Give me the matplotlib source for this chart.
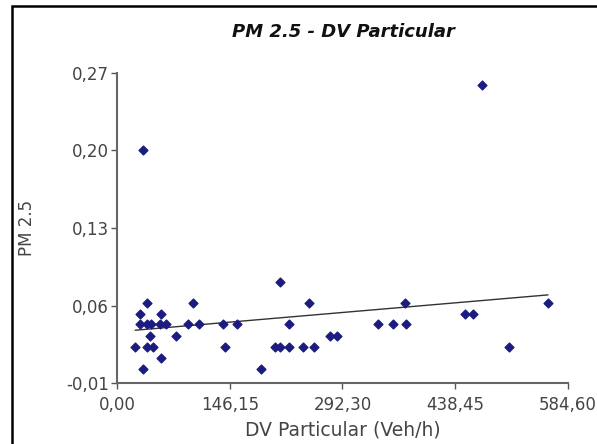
import numpy as np
import matplotlib.pyplot as plt
from matplotlib.patches import Rectangle
from matplotlib.ticker import FuncFormatter

# DV Particular (Veh/h) and PM 2.5 readings
dv = [34, 474, 211,
      39.4, 98.5, 249, 374, 558.7,
      29.4, 57.5, 450.7, 461.4,
      29.4, 39.4, 44.5, 55.3, 64, 92, 106, 137.4, 155.5, 223, 339, 357.7, 375,
      42.5, 76, 276, 285,
      23.8, 39.4, 46.7, 139.6, 204.4, 211, 223, 241, 256, 509,
      57.5,
      33.7, 187]
pm25 = [0.200, 0.259, 0.081,
        0.062, 0.062, 0.062, 0.062, 0.062,
        0.052, 0.052, 0.052, 0.052,
        0.043, 0.043, 0.043, 0.043, 0.043, 0.043, 0.043, 0.043, 0.043, 0.043, 0.043, 0.043, 0.043,
        0.033, 0.033, 0.033, 0.033,
        0.023, 0.023, 0.023, 0.023, 0.023, 0.023, 0.023, 0.023, 0.023, 0.023,
        0.013,
        0.003, 0.003]

x_ticks = [0.0, 146.15, 292.30, 438.45, 584.60]
y_ticks = [-0.01, 0.06, 0.13, 0.20, 0.27]


def comma(v, pos=None):
    return f"{v:.2f}".replace(".", ",")


fig = plt.figure(figsize=(5.97, 4.44), dpi=100)
ax = fig.add_axes([0.196, 0.137, 0.755, 0.699])

ax.scatter(dv, pm25, marker='D', s=20, color='#1c1c80', zorder=3)

# least squares line over the data range
slope, icpt = np.polyfit(dv, pm25, 1)
xs = np.array([min(dv), max(dv)])
ax.plot(xs, slope * xs + icpt, color='#333333', linewidth=1)

ax.set_xlim(0, 584.6)
ax.set_ylim(-0.01, 0.27)
ax.set_xticks(x_ticks)
ax.set_yticks(y_ticks)
ax.xaxis.set_major_formatter(FuncFormatter(comma))
ax.yaxis.set_major_formatter(FuncFormatter(comma))
ax.tick_params(direction='out', length=4, width=1, colors='#555555',
               labelcolor='#444444', labelsize=12)
ax.tick_params(axis='x', pad=5)
ax.tick_params(axis='y', pad=2)

for side in ['top', 'right']:
    ax.spines[side].set_visible(False)
for side in ['left', 'bottom']:
    ax.spines[side].set_color('#666666')
    ax.spines[side].set_linewidth(1.5)

fig.text(0.574, 1 - 430 / 444, 'DV Particular (Veh/h)', ha='center', va='center',
         fontsize=13.5, color='#444444')
fig.text(27 / 597, 1 - 228 / 444, 'PM 2.5', ha='center', va='center',
         rotation=90, fontsize=12, color='#444444')
fig.text(0.575, 0.927, 'PM 2.5 - DV Particular', ha='center', va='center',
         fontsize=13, fontweight='bold', fontstyle='italic', color='#111111')

# black frame around the picture
fig.patches.append(Rectangle((12 / 597, -0.05), 1.1, (444 - 6) / 444 + 0.05,
                             transform=fig.transFigure, fill=False,
                             edgecolor='black', linewidth=1.8))

fig.savefig('out.png', dpi=100)
